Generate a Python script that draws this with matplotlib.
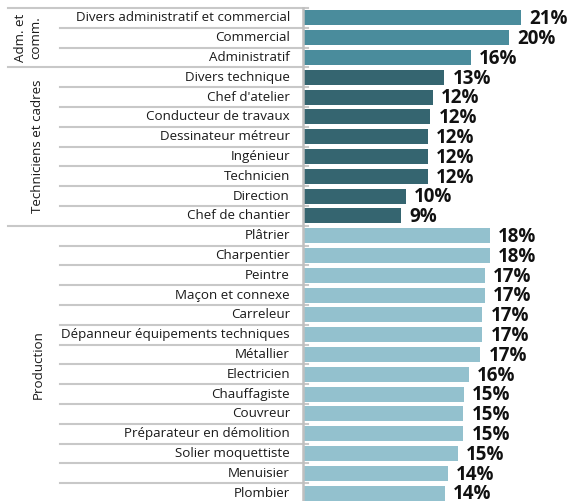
import matplotlib
matplotlib.use("Agg")
import matplotlib.pyplot as plt
from matplotlib.transforms import blended_transform_factory

plt.rcParams['font.family'] = ['Open Sans', 'DejaVu Sans']

# metiers, grouped by family
adm_labels = ["Divers administratif et commercial", "Commercial", "Administratif"]
adm_values = [20.76, 19.62, 16.0]

tech_labels = ["Divers technique", "Chef d'atelier", "Conducteur de travaux",
               "Dessinateur métreur", "Ingénieur", "Technicien", "Direction",
               "Chef de chantier"]
tech_values = [13.43, 12.38, 12.10, 11.90, 11.90, 11.90, 9.81, 9.33]

prod_labels = ["Plâtrier", "Charpentier", "Peintre", "Maçon et connexe", "Carreleur",
               "Dépanneur équipements techniques", "Métallier", "Electricien",
               "Chauffagiste", "Couvreur", "Préparateur en démolition",
               "Solier moquettiste", "Menuisier", "Plombier"]
prod_values = [17.81, 17.81, 17.33, 17.33, 17.05, 17.05, 16.86, 15.81,
               15.33, 15.24, 15.24, 14.76, 13.81, 13.52]

group_names = ["Adm. et\ncomm.", "Techniciens et cadres", "Production"]
group_colors = ["#4a8c9c", "#356570", "#93c1ce"]

labels = adm_labels + tech_labels + prod_labels
values = adm_values + tech_values + prod_values
groups = [adm_labels, tech_labels, prod_labels]
colors = []
for g, c in zip(groups, group_colors):
    colors += [c] * len(g)

W, H = 571, 501
fig = plt.figure(figsize=(W / 100, H / 100), dpi=100)
ax_left = 303 / W
ax = fig.add_axes([ax_left, 1 - 503 / H, 1 - ax_left, 495 / H])

n = len(labels)
ypos = list(range(n))
ax.barh(ypos, values, height=0.76, color=colors)
ax.set_xlim(0, (W - 303) / 10.5)
ax.set_ylim(n - 0.5, -0.5)
ax.axis("off")

for y, v in zip(ypos, values):
    ax.annotate(f"{v:.0f}%", (v, y), xytext=(6, -1), textcoords="offset points",
                ha="left", va="center", fontsize=13.5, fontweight="bold",
                color="#111111", annotation_clip=False)

# left side: labels and row separators, x in figure fraction, y in data
tr = blended_transform_factory(fig.transFigure, ax.transData)
line_col = "#c8c8c8"
starts = [0]
for g in groups[:-1]:
    starts.append(starts[-1] + len(g))

for i in range(n):
    x0 = 8 / W if i in starts else 60 / W
    fig.add_artist(plt.Line2D([x0, 308 / W], [i - 0.5, i - 0.5], transform=tr,
                              color=line_col, lw=1.5))
    fig.text(290 / W, i, labels[i], transform=tr, ha="right", va="center",
             fontsize=9.6, color="#1a1a1a")

# vertical axis line
fig.add_artist(plt.Line2D([303 / W, 303 / W], [-0.5, n - 0.5], transform=tr,
                          color="#bfbfbf", lw=1.8))

group_x = [28 / W, 38 / W, 38 / W]
for name, s, g, gx in zip(group_names, starts, groups, group_x):
    yc = s + (len(g) - 1) / 2
    fig.text(gx, yc, name, transform=tr, rotation=90, ha="center", va="center",
             fontsize=9.6, color="#1a1a1a", linespacing=1.25)

fig.savefig("out.png", dpi=100)
